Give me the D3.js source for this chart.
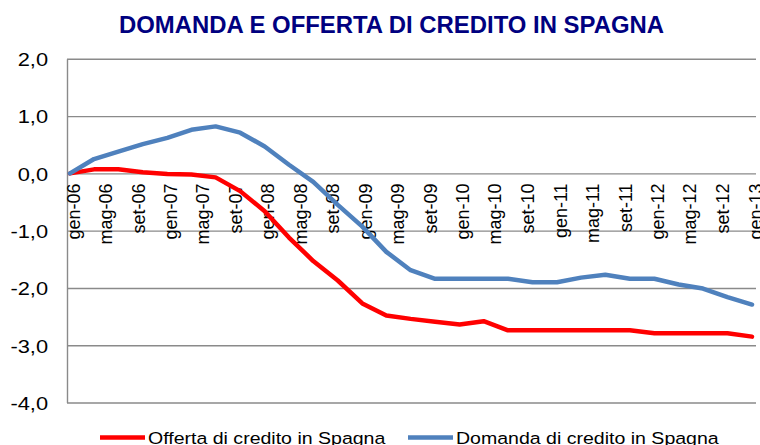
<!DOCTYPE html>
<html>
<head>
<meta charset="utf-8">
<script src="https://cdn.jsdelivr.net/npm/d3@7"></script>
<style>
  body { margin: 0; background: #fff; }
  svg { display: block; font-family: "Liberation Sans", Arial, sans-serif; }
</style>
</head>
<body>
<svg id="chart" width="760" height="445"></svg>
<script>
// trimestri, da gen-06 a gen-13
var periodi = ["2006-01","2006-04","2006-07","2006-10","2007-01","2007-04","2007-07","2007-10",
  "2008-01","2008-04","2008-07","2008-10","2009-01","2009-04","2009-07","2009-10",
  "2010-01","2010-04","2010-07","2010-10","2011-01","2011-04","2011-07","2011-10",
  "2012-01","2012-04","2012-07","2012-10","2013-01"];
var offerta = [0, 0.07, 0.07, 0.02, -0.01, -0.02, -0.07, -0.31,
  -0.66, -1.12, -1.53, -1.87, -2.27, -2.48, -2.54, -2.59,
  -2.64, -2.58, -2.74, -2.74, -2.74, -2.74, -2.74, -2.74,
  -2.79, -2.79, -2.79, -2.79, -2.85];
var domanda = [0, 0.25, 0.38, 0.51, 0.62, 0.76, 0.82, 0.71,
  0.47, 0.15, -0.15, -0.55, -0.93, -1.37, -1.69, -1.84,
  -1.84, -1.84, -1.84, -1.90, -1.90, -1.82, -1.77, -1.84,
  -1.84, -1.94, -2.01, -2.16, -2.29];
var yTicks = [2, 1, 0, -1, -2, -3, -4];
var mesi = ["gen","feb","mar","apr","mag","giu","lug","ago","set","ott","nov","dic"];
var nomiSerie = ["Offerta di credito in Spagna", "Domanda di credito in Spagna"];
var colori = ["#ff0000", "#4f81bd"];
var titolo = "DOMANDA E OFFERTA DI CREDITO IN SPAGNA";

var svg = d3.select("#chart");
var parse = d3.timeParse("%Y-%m");
var date = periodi.map(function(p){ return parse(p); });

var plotL = 67, plotR = 756, plotT = 58.8, plotB = 402.5;
var x = d3.scaleTime().domain([date[0], date[date.length-1]]).range([70, 752]);
var y = d3.scaleLinear().domain([-4, 2]).range([plotB, plotT]);

// titolo
svg.append("text").attr("x", 119).attr("y", 33)
  .attr("font-size", 23.5).attr("font-weight", "bold").attr("fill", "#000080")
  .attr("textLength", 545).attr("lengthAdjust", "spacingAndGlyphs")
  .text(titolo);

// griglia orizzontale
var grid = svg.append("g").attr("class", "grid").attr("transform", "translate(" + plotL + ",0)")
  .call(d3.axisLeft(y).tickValues(yTicks).tickSize(-(plotR - plotL)).tickFormat(""));
grid.select(".domain").remove();
grid.selectAll(".tick line").attr("stroke", "#8a8a8a").attr("stroke-width", 1.4);

// asse y
var yAxis = svg.append("g").attr("transform", "translate(" + plotL + ",0)")
  .call(d3.axisLeft(y).tickValues(yTicks).tickSize(0).tickSizeOuter(0)
    .tickFormat(function(d){ return d3.format(".1f")(d).replace(".", ",").replace("−", "-"); }));
yAxis.select(".domain").attr("stroke", "#8a8a8a").attr("stroke-width", 1.4);
yAxis.selectAll("text").attr("font-size", 19).attr("fill", "#000")
  .attr("font-family", "Liberation Sans, Arial, sans-serif")
  .attr("x", -16.5).attr("dy", "0.36em").attr("transform", "scale(1.15,1)");

// asse x (a quota 0), etichette ogni 4 mesi
var xAxis = svg.append("g").attr("transform", "translate(0," + y(0) + ")")
  .call(d3.axisBottom(x).ticks(d3.timeMonth.every(4)).tickSize(0).tickSizeOuter(0)
    .tickFormat(function(d){ return mesi[d.getMonth()] + "-" + d3.timeFormat("%y")(d); }));
xAxis.select(".domain").remove();
xAxis.selectAll("text").attr("font-size", 18).attr("fill", "#000")
  .attr("font-family", "Liberation Sans, Arial, sans-serif")
  .attr("text-anchor", "end").attr("x", 0).attr("y", 0).attr("dy", "0.4em")
  .attr("transform", "translate(2,10) rotate(-90)");

// linee
var serie = [offerta, domanda];
var line = d3.line().x(function(d, i){ return x(date[i]); }).y(function(d){ return y(d); });
for (var s = 0; s < serie.length; s++) {
  svg.append("path").datum(serie[s]).attr("d", line)
    .attr("fill", "none").attr("stroke", colori[s]).attr("stroke-width", 4.5)
    .attr("stroke-linejoin", "round").attr("stroke-linecap", "round");
}

// legenda
var legX = [100, 408];
for (var k = 0; k < nomiSerie.length; k++) {
  var g = svg.append("g").attr("transform", "translate(" + legX[k] + ",437.5)");
  g.append("line").attr("x1", 0).attr("x2", 45).attr("y1", 0).attr("y2", 0)
    .attr("stroke", colori[k]).attr("stroke-width", 4.5);
  g.append("text").attr("x", 48 / 1.15).attr("y", 6.5).attr("font-size", 17)
    .attr("transform", "scale(1.15,1)").attr("fill", "#000").text(nomiSerie[k]);
}
</script>
</body>
</html>
